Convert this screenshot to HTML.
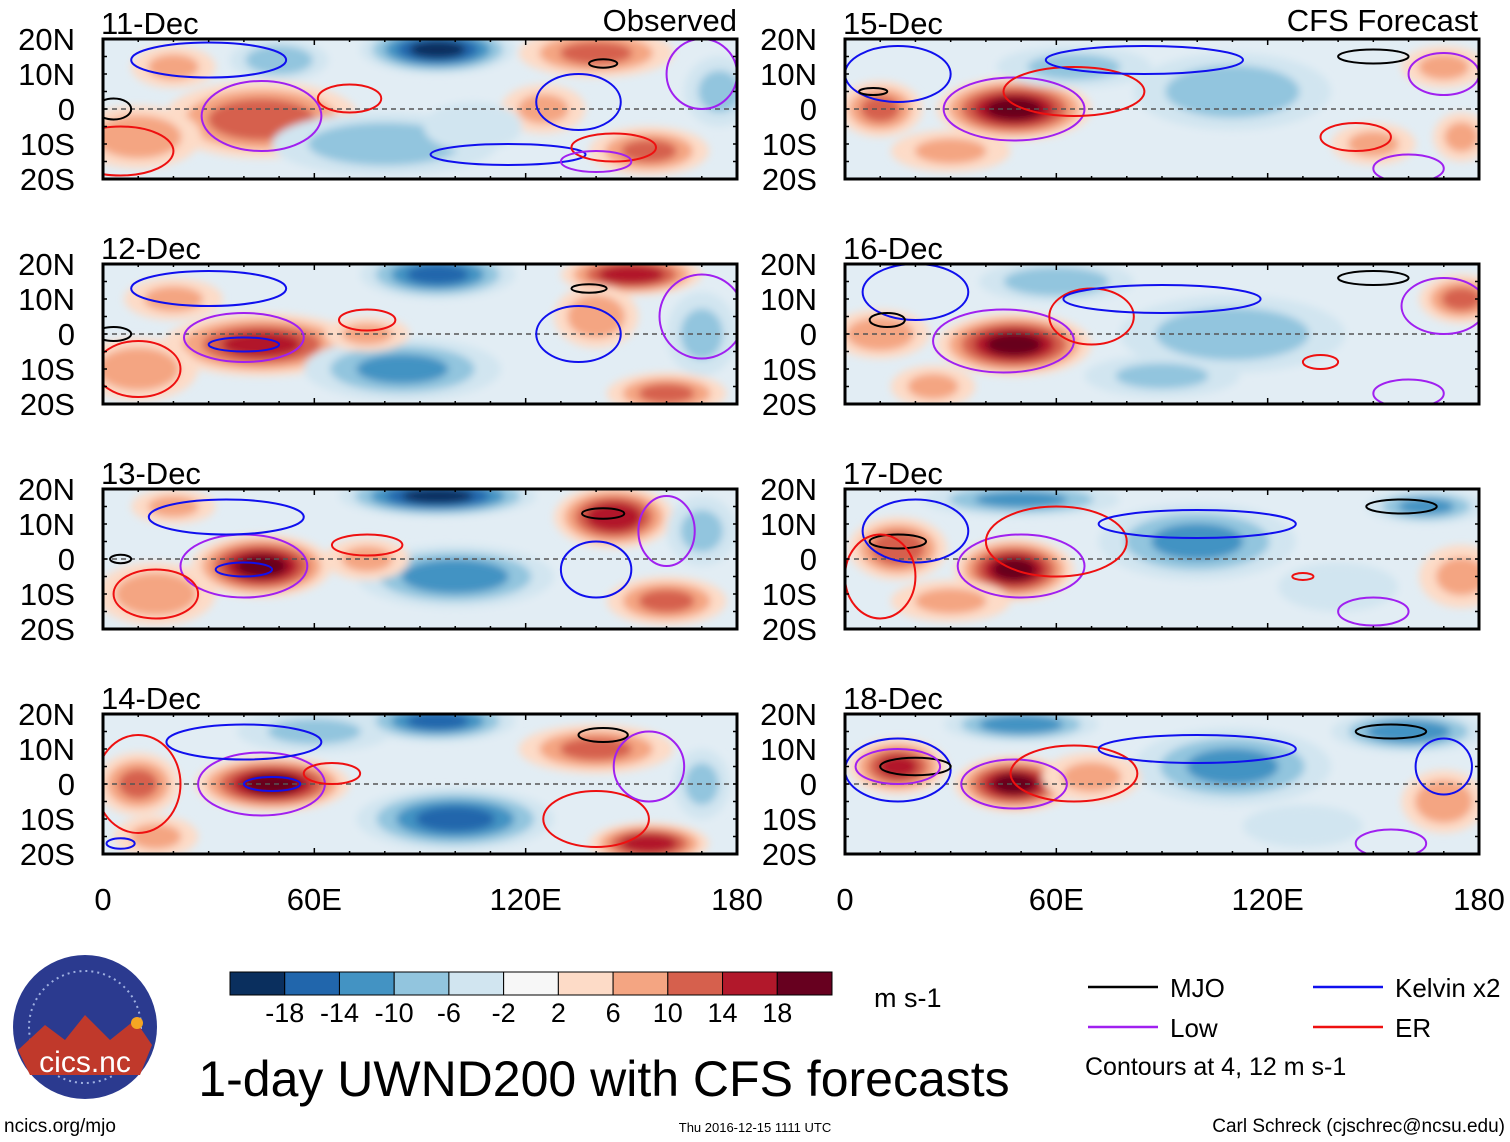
<!DOCTYPE html>
<html><head><meta charset="utf-8">
<style>
body{margin:0;background:#fff;width:1510px;height:1142px;overflow:hidden;font-family:"Liberation Sans",sans-serif}
svg{position:absolute;left:0;top:0}
</style></head>
<body>
<svg id="chart" width="1510" height="1142" viewBox="0 0 1510 1142">
<defs>
<filter id="blur" x="-50%" y="-50%" width="200%" height="200%"><feGaussianBlur stdDeviation="4"/></filter>
</defs>
</svg>
<script>
// ---- data ----
const panelDates = ["11-Dec","12-Dec","13-Dec","14-Dec","15-Dec","16-Dec","17-Dec","18-Dec"];
const latTicks = ["20N","10N","0","10S","20S"];
const latValues = [20,10,0,-10,-20];
const lonTicks = ["0","60E","120E","180"];
const lonValues = [0,60,120,180];
const colorLevels = [-18,-14,-10,-6,-2,2,6,10,14,18];
const colorbarLabels = ["-18","-14","-10","-6","-2","2","6","10","14","18"];
// blobs: [lon, lat, value(m/s), rlon, rlat]
const blobs0 = [[45,-3,12,28,11],[10,-8,8,18,9],[95,17,-18,22,7],[50,14,-8,14,6],[80,-10,-8,32,9],[140,16,10,22,7],[125,0,6,12,7],[155,-12,10,17,7],[175,5,-6,10,10],[105,-5,-4,14,7],[20,12,6,12,6]];
const blobs1 = [[45,-3,14,28,9],[10,-10,8,17,9],[95,17,-14,22,7],[150,17,16,20,6],[140,5,8,12,9],[85,-10,-10,28,9],[160,-17,10,17,6],[170,0,-6,10,12],[75,0,6,12,5],[20,10,6,14,6]];
const blobs2 = [[45,-2,18,20,9],[15,-10,8,17,9],[95,18,-18,28,6],[145,12,16,17,9],[100,-5,-12,28,9],[75,0,6,12,6],[160,-12,10,17,7],[170,8,-6,10,10],[20,15,6,12,5]];
const blobs3 = [[48,0,18,22,8],[10,0,10,12,9],[60,15,-6,22,6],[100,-10,-14,28,9],[95,18,-14,22,6],[140,10,10,22,7],[155,-17,16,17,6],[170,0,-6,8,10],[15,-15,6,12,6]];
const blobs4 = [[48,0,18,22,9],[10,0,10,12,8],[65,12,-6,22,6],[110,5,-8,28,11],[150,-10,6,12,6],[170,12,6,12,6],[30,-12,6,17,6],[175,-8,6,8,7]];
const blobs5 = [[48,-3,18,22,9],[10,0,8,14,7],[60,15,-8,22,6],[110,0,-8,32,11],[175,10,10,12,7],[90,-12,-6,22,6],[25,-15,6,12,6]];
const blobs6 = [[48,-3,18,17,9],[15,3,12,14,9],[50,17,-10,28,5],[100,5,-10,28,11],[165,15,-10,17,5],[175,-5,6,12,9],[140,-8,-4,17,7],[30,-12,6,17,6]];
const blobs7 = [[48,0,18,17,8],[15,5,14,14,8],[50,17,-12,22,5],[110,5,-10,28,11],[160,15,-12,22,6],[170,-5,8,12,9],[130,-12,-4,17,6],[70,2,6,14,7]];
const allBlobs = [blobs0,blobs1,blobs2,blobs3,blobs4,blobs5,blobs6,blobs7];
// contours: [type, lon, lat, rlon, rlat]
const contours0 = [["low",45,-2,17,10],["er",5,-12,15,7],["er",70,3,9,4],["kelvin",30,14,22,5],["kelvin",135,2,12,8],["kelvin",115,-13,22,3],["er",145,-11,12,4],["low",140,-15,10,3],["mjo",142,13,4,1.2],["mjo",3,0,5,3],["low",170,10,10,10]];
const contours1 = [["low",40,-1,17,7],["er",75,4,8,3],["er",10,-10,12,8],["kelvin",30,13,22,5],["kelvin",135,0,12,8],["mjo",138,13,5,1.2],["mjo",3,0,5,2],["low",170,5,12,12],["kelvin",40,-3,10,2]];
const contours2 = [["low",40,-2,18,9],["er",75,4,10,3],["kelvin",40,-3,8,2],["kelvin",35,12,22,5],["kelvin",140,-3,10,8],["mjo",142,13,6,1.5],["mjo",5,0,3,1.2],["er",15,-10,12,7],["low",160,8,8,10]];
const contours3 = [["low",45,0,18,9],["kelvin",48,0,8,2],["er",65,3,8,3],["er",10,0,12,14],["kelvin",40,12,22,5],["er",140,-10,15,8],["mjo",142,14,7,2],["low",155,5,10,10],["kelvin",5,-17,4,1.5]];
const contours4 = [["low",48,0,20,9],["er",65,5,20,7],["er",145,-8,10,4],["kelvin",15,10,15,8],["kelvin",85,14,28,4],["mjo",150,15,10,2],["low",160,-17,10,4],["low",170,10,10,6],["mjo",8,5,4,1]];
const contours5 = [["low",45,-2,20,9],["er",70,5,12,8],["kelvin",20,12,15,8],["kelvin",90,10,28,4],["mjo",150,16,10,2],["mjo",12,4,5,2],["er",135,-8,5,2],["low",160,-17,10,4],["low",170,8,12,8]];
const contours6 = [["low",50,-2,18,9],["er",60,5,20,10],["kelvin",20,8,15,9],["kelvin",100,10,28,4],["mjo",158,15,10,2],["mjo",15,5,8,2],["er",10,-5,10,12],["low",150,-15,10,4],["er",130,-5,3,1]];
const contours7 = [["low",48,0,15,7],["er",65,3,18,8],["kelvin",15,4,15,9],["kelvin",100,10,28,4],["mjo",155,15,10,2],["mjo",20,5,10,2.5],["low",15,5,12,5],["low",155,-17,10,4],["kelvin",170,5,8,8]];
const allContours = [contours0,contours1,contours2,contours3,contours4,contours5,contours6,contours7];
// ---- styles ----
const palette = ["#0a2f5e","#2166ac","#4393c3","#92c5de","#d1e5f0","#f7f7f7","#fddbc7","#f4a582","#d6604d","#b2182b","#67001f"];
const contourColors = {mjo:"#000",kelvin:"#1010ee",low:"#a020f0",er:"#ee1010"};
const svg = document.getElementById('chart');
const NS = "http://www.w3.org/2000/svg";
function mk(tag, attrs, parent){const e=document.createElementNS(NS,tag);for(const k in attrs)e.setAttribute(k,attrs[k]);(parent||svg).appendChild(e);return e;}
function txt(s, x, y, size, anchor, parent){const t=mk('text',{x:x,y:y,'font-size':size,'text-anchor':anchor||'start','font-family':'Liberation Sans, sans-serif',fill:'#000'},parent);t.textContent=s;return t;}
function colorFor(v){let i=0;while(i<colorLevels.length&&v>colorLevels[i])i++;return palette[i];}
const W=634, H=140;
const origins=[[103,39],[103,264],[103,489],[103,714],[845,39],[845,264],[845,489],[845,714]];
allBlobs.forEach((blobs,p)=>{
  const [x0,y0]=origins[p];
  const xs=lon=>x0+lon/180*W, ys=lat=>y0+(20-lat)/40*H;
  const g=mk('g',{});
  
  
  mk('clipPath',{id:'clip'+p},g);
  mk('rect',{x:x0,y:y0,width:W,height:H},g.lastChild);
  const inner=mk('g',{'clip-path':'url(#clip'+p+')'},g);
  mk('rect',{x:x0,y:y0,width:W,height:H,fill:'#e2edf4'},inner);
  const fg=mk('g',{filter:'url(#blur)'},inner);
  blobs.forEach(b=>{
    const [lon,lat,v,rl,rt]=b; const a=Math.abs(v), s=Math.sign(v);
    for(let L=2;L<=a;L+=4){
      const f=1-0.8*(L-2)/(a+2);
      const e=mk('ellipse',{cx:xs(lon),cy:ys(lat),rx:rl/180*W*f,ry:rt/40*H*f,fill:colorFor(s*(L+1))},fg);
      
      
    }
  });
  mk('line',{x1:x0,y1:ys(0),x2:x0+W,y2:ys(0),stroke:'#555','stroke-dasharray':'5,4','stroke-width':1.5},inner);
  allContours[p].forEach(c=>{
    const [ty,lon,lat,rl,rt]=c;
    const e=mk('ellipse',{cx:xs(lon),cy:ys(lat),rx:rl/180*W,ry:rt/40*H,fill:'none',stroke:contourColors[ty],'stroke-width':2},inner);
    
    
  });
  mk('rect',{x:x0,y:y0,width:W,height:H,fill:'none',stroke:'#000','stroke-width':3},g);
  for(let lon=0;lon<=180;lon+=10){const x=xs(lon),len=lon%60===0?6:3;mk('line',{x1:x,y1:y0,x2:x,y2:y0+len,stroke:'#000','stroke-width':1.5},g);mk('line',{x1:x,y1:y0+H,x2:x,y2:y0+H-len,stroke:'#000','stroke-width':1.5},g);}
  for(let lat=-20;lat<=20;lat+=5){const y=ys(lat);mk('line',{x1:x0,y1:y,x2:x0+4,y2:y,stroke:'#000','stroke-width':1.5},g);mk('line',{x1:x0+W,y1:y,x2:x0+W-4,y2:y,stroke:'#000','stroke-width':1.5},g);}
  const dt=txt(panelDates[p],x0-2,y0-5,31,'start',g);
  
  
  latTicks.forEach((l,i)=>{const t=txt(l,x0-28,ys(latValues[i])+11,31,'end',g);});
  if(p===3||p===7) lonTicks.forEach((l,i)=>{const t=txt(l,xs(lonValues[i]),910,31,'middle',g);});
});
let t=txt("Observed",737,31,31,'end');
t=txt("CFS Forecast",1478,31,31,'end');
// colorbar
const cb=mk('g',{});
const cbw=602/palette.length;
palette.forEach((c,i)=>{mk('rect',{x:230+i*cbw,y:972,width:cbw,height:23,fill:c,stroke:'#000','stroke-width':1},cb);});
colorbarLabels.forEach((l,i)=>{const tt=txt(l,230+(i+1)*cbw,1022,27,'middle',cb);});
t=txt("m s-1",874,1007,27,'start');
// legend
const lg=mk('g',{});
[["MJO","mjo",1088,987],["Kelvin x2","kelvin",1313,987],["Low","low",1088,1027],["ER","er",1313,1027]].forEach(e=>{
  mk('line',{x1:e[2],y1:e[3],x2:e[2]+70,y2:e[3],stroke:contourColors[e[1]],'stroke-width':2.5},lg);
  const tt=txt(e[0],e[2]+82,e[3]+10,26,'start',lg);
});
t=txt("Contours at 4, 12 m s-1",1085,1075,25,'start');
t=txt("1-day UWND200 with CFS forecasts",604,1096,50,'middle');
t=txt("ncics.org/mjo",4,1132,19,'start');
t=txt("Thu 2016-12-15 1111 UTC",755,1132,13,'middle');
t=txt("Carl Schreck (cjschrec@ncsu.edu)",1505,1132,19,'end');
// logo
const lo=mk('g',{});
mk('circle',{cx:85,cy:1027,r:72,fill:'#2b3a8f'},lo);
mk('circle',{cx:85,cy:1027,r:56,fill:'none',stroke:'#9fb0e0','stroke-width':2,'stroke-dasharray':'2,4'},lo);
mk('path',{d:'M18,1050 L45,1025 L65,1040 L85,1015 L110,1040 L135,1020 L152,1045 L140,1075 L30,1075 Z',fill:'#c0392b'},lo);
mk('circle',{cx:137,cy:1023,r:6,fill:'#f5a623'},lo);
t=txt("cics.nc",85,1072,30,'middle',lo);t.setAttribute('fill','#fff');
</script>
</body></html>
